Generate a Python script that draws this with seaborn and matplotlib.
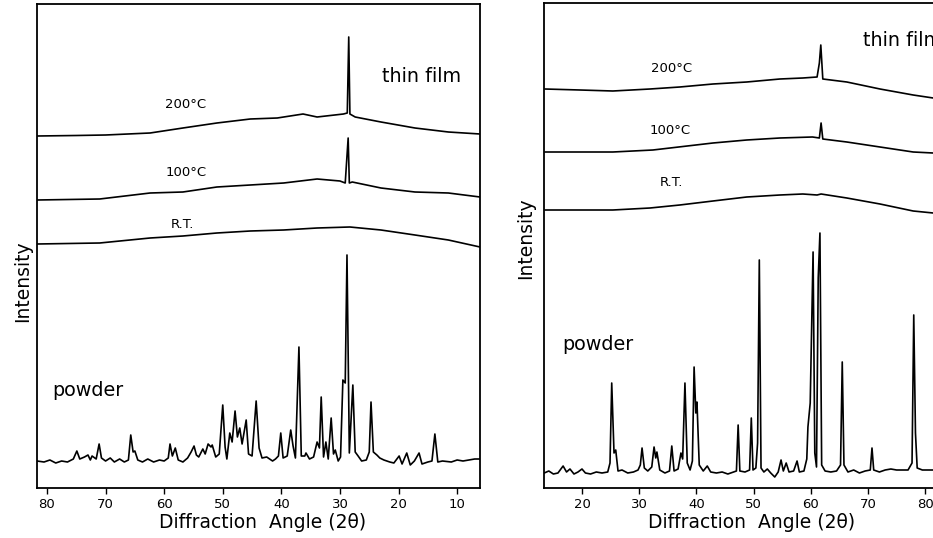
import numpy as np
import pandas as pd
import matplotlib
matplotlib.use("Agg")
import matplotlib.pyplot as plt
import seaborn as sns

# ---------------- data (arbitrary intensity units) ----------------
# Left panel: powder pattern (angle in 2θ, intensity above its baseline)
left_powder_angle = [81.7, 80.5, 79.5, 78.5, 77.5, 76.5, 75.5, 74.9, 74.4, 73.6, 73.0, 72.6, 72.3, 71.6,
                     71.1, 70.7, 70.0, 69.2, 68.5, 67.6, 66.8, 66.1, 65.7, 65.3, 65.0, 64.5, 63.7, 62.8,
                     61.8, 60.8, 60.0, 59.3, 59.0, 58.6, 58.1, 57.6, 56.8, 56.0, 55.4, 54.9, 54.5, 54.1,
                     53.4, 53.0, 52.5, 52.0, 51.8, 51.2, 50.6, 50.0, 49.6, 49.3, 48.8, 48.4, 47.9, 47.5,
                     47.1, 46.7, 46.0, 45.6, 45.0, 44.3, 43.8, 43.3, 42.5, 41.5, 41.0, 40.5, 40.1, 39.7,
                     39.0, 38.4, 38.0, 37.6, 37.0, 36.6, 36.0, 35.8, 35.2, 34.5, 33.9, 33.5, 33.2, 32.8,
                     32.4, 32.0, 31.5, 31.1, 30.8, 30.3, 29.9, 29.5, 29.1, 28.8, 28.5, 28.4, 27.8, 27.4,
                     26.9, 26.3, 25.5, 25.0, 24.7, 24.3, 23.7, 23.2, 22.5, 21.5, 20.8, 19.9, 19.4, 18.6,
                     18.0, 17.3, 16.5, 16.0, 15.0, 14.3, 13.8, 13.3, 12.5, 11.0, 10.0, 9.0, 8.0, 7.0, 6.1]
left_powder_int = [1, 0, 2, -1, 1, 0, 3, 11, 3, 5, 7, 2, 6, 3,
                   18, 4, 1, 4, 0, 3, 0, 2, 27, 10, 11, 2, 0, 3,
                   0, 2, 1, 4, 18, 6, 14, 2, 0, 4, 10, 16, 7, 5,
                   13, 8, 18, 15, 17, 5, 8, 57, 15, 3, 29, 20, 51, 25,
                   34, 18, 42, 8, 6, 61, 14, 4, 5, 1, 3, 6, 29, 4,
                   6, 32, 16, 4, 115, 6, 6, 9, 3, 5, 20, 14, 65, 5,
                   20, 3, 44, 8, 12, 1, 5, 82, 79, 207, 60, 9, 77, 10,
                   6, 1, 2, 10, 60, 10, 7, 4, 2, 0, -1, 6, -2, 9,
                   -3, 1, 9, -2, 0, 1, 28, 0, 1, 0, 2, 1, 2, 3, 3]
left_powder_base = 26

# Left panel: thin films (already stacked)
left_film_angle = {
    "200°C": [81.7, 75.0, 70.0, 62.4, 56.8, 51.0, 45.3, 40.7, 36.3, 33.9, 29.4, 28.75, 28.5, 28.3,
              27.4, 23.0, 17.2, 11.5, 6.1],
    "100°C": [81.7, 71.0, 62.4, 56.8, 51.0, 45.3, 39.6, 33.9, 30.0, 29.1, 28.6, 28.4, 27.9, 23.0,
              17.2, 11.5, 6.1],
    "R.T.": [81.7, 71.0, 62.4, 56.8, 51.0, 45.3, 39.6, 33.9, 28.3, 23.0, 17.2, 11.5, 6.1],
}
left_film_int = {
    "200°C": [352, 352.5, 353, 355, 360, 365, 369, 370, 374, 371, 374, 375, 451, 374,
              371, 366, 360, 356, 354],
    "100°C": [288, 289, 295, 296, 301, 303, 305, 309, 307, 305, 350, 305, 306, 300,
              296, 295, 291],
    "R.T.": [244, 245, 250, 252, 255, 257, 258, 260, 261, 258, 253, 248, 241],
}

# Right panel: powder pattern
right_powder_angle = [13.4, 14.2, 15.0, 15.8, 16.7, 17.3, 17.9, 18.6, 19.3, 20.0, 20.6, 21.5, 22.5, 23.5,
                      24.5, 24.9, 25.2, 25.6, 25.9, 26.3, 27.0, 28.0, 29.0, 29.8, 30.2, 30.5, 30.9, 31.5,
                      32.2, 32.6, 32.9, 33.1, 33.6, 34.5, 35.3, 35.7, 36.1, 36.8, 37.3, 37.6, 38.0, 38.4,
                      38.9, 39.3, 39.6, 39.9, 40.1, 40.5, 41.2, 41.9, 42.5, 43.5, 44.5, 45.5, 46.5, 47.0,
                      47.3, 47.6, 48.5, 49.3, 49.6, 49.9, 50.4, 50.7, 51.0, 51.3, 51.8, 52.4, 53.0, 53.7,
                      54.3, 54.8, 55.2, 55.7, 56.2, 57.0, 57.6, 58.0, 58.8, 59.3, 59.5, 59.9, 60.4, 60.7,
                      61.0, 61.3, 61.6, 61.9, 62.5, 63.5, 64.5, 65.2, 65.5, 65.8, 66.5, 67.5, 68.5, 69.5,
                      70.4, 70.7, 71.0, 72.0, 73.0, 74.0, 75.0, 76.0, 77.0, 77.7, 78.0, 78.3, 78.6, 79.5,
                      80.5, 81.5]
right_powder_int = [0, 2, -1, 0, 7, 1, 4, -1, 1, 4, 0, -1, 1, 0,
                    1, 10, 90, 20, 23, 2, 3, 0, 1, 3, 8, 25, 5, 2,
                    6, 26, 15, 21, 3, 0, 2, 27, 2, 4, 20, 14, 90, 10,
                    3, 12, 106, 60, 71, 8, 2, 7, 1, 0, 1, -1, 1, 2,
                    48, 2, 1, 3, 55, 3, 5, 30, 213, 5, 1, 4, 0, -4,
                    1, 13, 2, 10, 1, 2, 12, 1, 2, 14, 46, 70, 221, 20,
                    6, 195, 240, 8, 2, 1, 2, 8, 111, 8, 1, 3, 0, 2,
                    3, 25, 3, 1, 3, 4, 3, 3, 3, 10, 158, 40, 5, 3,
                    3, 3]
right_powder_base = 15

# Right panel: thin films (already stacked)
right_film_angle = {
    "200°C": [13.5, 19.65, 25.4, 31.9, 37.1, 42.9, 48.8, 54.6, 58.6, 61.1, 61.5, 61.75, 62.1, 66.3,
              72.1, 77.9, 81.4],
    "100°C": [13.5, 19.65, 25.4, 32.4, 42.9, 48.8, 54.6, 60.3, 61.5, 61.8, 62.1, 66.3, 72.1, 77.9, 81.4],
    "R.T.": [13.5, 19.65, 25.4, 31.9, 37.1, 42.9, 48.8, 54.6, 58.6, 61.1, 61.8, 66.3, 72.1, 77.9, 81.4],
}
right_film_int = {
    "200°C": [399, 398, 397, 399, 401, 404, 406, 409, 410, 411, 425, 443, 409, 406,
              399, 393, 390],
    "100°C": [336, 336, 336, 338, 345, 348, 350, 351, 350, 365, 349, 346, 341, 336, 335],
    "R.T.": [278, 278, 278, 280, 283, 287, 291, 293, 294, 293, 294, 290, 284, 277, 275],
}

left_ticks = [80, 70, 60, 50, 40, 30, 20, 10]
right_ticks = [20, 30, 40, 50, 60, 70, 80]
xlabel_text = "Diffraction  Angle (2θ)"
ylabel_text = "Intensity"

# ---------------- drawing ----------------
sns.set_style("ticks")
plt.rcParams["font.family"] = ["DejaVu Sans"]
plt.rcParams["text.color"] = "black"
plt.rcParams["axes.labelcolor"] = "black"
plt.rcParams["xtick.color"] = "black"
plt.rcParams["ytick.color"] = "black"

W, H = 933, 538
fig = plt.figure(figsize=(W / 100, H / 100), dpi=100)

def frac(x0, y0, x1, y1):
    return [x0 / W, (H - y1) / H, (x1 - x0) / W, (y1 - y0) / H]

axL = fig.add_axes(frac(37, 4, 480, 488))
axR = fig.add_axes(frac(544, 3, 990, 488))

line_kw = dict(color="black", linewidth=1.2, estimator=None, sort=False, legend=False)

def draw(ax, p_ang, p_int, base, f_ang, f_int):
    dfp = pd.DataFrame({"angle": p_ang, "intensity": np.asarray(p_int, float) + base})
    sns.lineplot(data=dfp, x="angle", y="intensity", ax=ax, **line_kw)
    for key in f_ang:
        dff = pd.DataFrame({"angle": f_ang[key], "intensity": f_int[key]})
        sns.lineplot(data=dff, x="angle", y="intensity", ax=ax, **line_kw)

draw(axL, left_powder_angle, left_powder_int, left_powder_base, left_film_angle, left_film_int)
draw(axR, right_powder_angle, right_powder_int, right_powder_base, right_film_angle, right_film_int)

axL.set_xlim(81.7, 6.1)
axL.set_ylim(0, 484)
axR.set_xlim(13.36, 91.33)
axR.set_ylim(0, 485)

axL.set_xticks(left_ticks)
axR.set_xticks(right_ticks)

for ax in (axL, axR):
    ax.set_yticks([])
    ax.tick_params(axis="x", direction="out", length=4, width=1, pad=3.5,
                   labelsize=9.5, colors="black")
    for sp in ax.spines.values():
        sp.set_visible(True)
        sp.set_linewidth(1.3)
        sp.set_color("black")
    ax.set_xlabel(xlabel_text, fontsize=13.5, color="black")
    ax.set_ylabel(ylabel_text, fontsize=13.5, color="black")
    ax.set_facecolor("white")

axL.xaxis.set_label_coords(0.509, -0.052)
axR.xaxis.set_label_coords(0.466, -0.052)
axL.yaxis.set_label_coords(-0.012, 0.428)
axR.yaxis.set_label_coords(-0.020, 0.515)

txt_small = dict(fontsize=9.5, ha="center", va="center", color="black")
txt_big = dict(fontsize=13.8, va="center", color="black")

axL.text(56.3, 383, "200°C", **txt_small)
axL.text(56.3, 316, "100°C", **txt_small)
axL.text(56.9, 264, "R.T.", **txt_small)
axL.text(16.0, 411, "thin film", ha="center", **txt_big)
axL.text(73.0, 98, "powder", ha="center", **txt_big)

axR.text(35.7, 420, "200°C", **txt_small)
axR.text(35.4, 358, "100°C", **txt_small)
axR.text(35.6, 305, "R.T.", **txt_small)
axR.text(69.1, 448, "thin film", ha="left", **txt_big)
axR.text(16.5, 144, "powder", ha="left", **txt_big)

fig.savefig("out.png", dpi=100, facecolor="white")
